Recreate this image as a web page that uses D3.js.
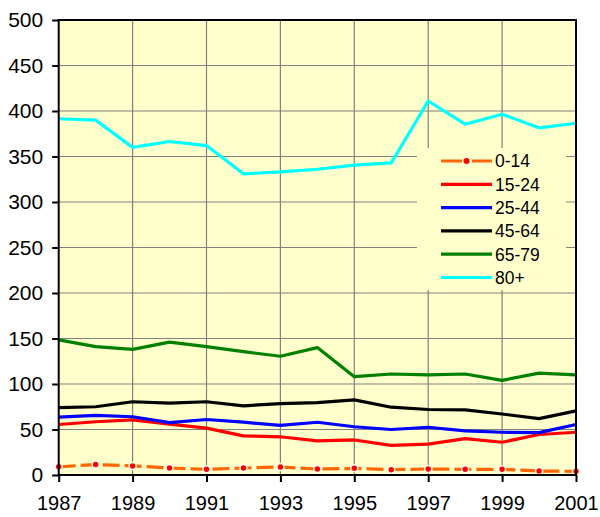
<!DOCTYPE html>
<html>
<head>
<meta charset="utf-8">
<script src="https://cdn.jsdelivr.net/npm/d3@7/dist/d3.min.js"></script>
<style>
  html, body { margin: 0; padding: 0; background: #ffffff; }
  svg { display: block; }
  text { font-family: "Liberation Sans", Arial, sans-serif; fill: #000; }
</style>
</head>
<body>
<svg id="chart" width="600" height="517"></svg>
<script>
// Years on the horizontal axis
const years = [1987, 1988, 1989, 1990, 1991, 1992, 1993, 1994, 1995, 1996, 1997, 1998, 1999, 2000, 2001];

// Age groups and their rates per year
const age0_14  = [9, 11.5, 10, 7.7, 6.2, 7.7, 8.8, 6.6, 7.3, 5.9, 6.6, 6.2, 6.2, 4.4, 4];
const age15_24 = [55.5, 58.5, 60.5, 56, 51.5, 43, 42, 37.5, 38.5, 32.5, 34, 40, 36, 44.5, 47];
const age25_44 = [63.5, 65.5, 64, 57.5, 61, 58, 54.5, 58, 53, 50, 52.5, 48.5, 47, 46.5, 55.5];
const age45_64 = [74, 75, 80.5, 79, 80.5, 76, 78.5, 79.5, 82.5, 74.5, 72, 71.5, 67, 62, 70.5];
const age65_79 = [148.5, 141, 138, 146, 141, 135.5, 130.5, 140, 108, 111, 110, 111, 104, 112, 110];
const age80p   = [391.5, 390, 360, 366.5, 362, 331, 333, 336, 340.5, 343, 411, 385.5, 396.5, 381.5, 386.5];

const seriesNames  = ["0-14", "15-24", "25-44", "45-64", "65-79", "80+"];
const seriesValues = [age0_14, age15_24, age25_44, age45_64, age65_79, age80p];
const seriesColors = ["#FF6600", "#FF0000", "#0000FF", "#000000", "#008000", "#00FFFF"];

const yTicks = d3.range(0, 501, 50);
const xTicks = [1987, 1989, 1991, 1993, 1995, 1997, 1999, 2001];

const svg = d3.select("#chart");
const plotL = 58.7, plotR = 576, plotT = 20, plotB = 475;

const x = d3.scaleLinear().domain([1987, 2001]).range([plotL, plotR]);
const y = d3.scaleLinear().domain([0, 500]).range([plotB, plotT]);

// plot background
svg.append("rect")
  .attr("x", plotL).attr("y", plotT)
  .attr("width", plotR - plotL).attr("height", plotB - plotT)
  .attr("fill", "#FFFFCC");

// grid lines
const grid = svg.append("g").attr("stroke", "#808080").attr("stroke-width", 1.2);
grid.selectAll("line.h").data(yTicks.filter(d => d > 0 && d < 500)).join("line")
  .attr("class", "h")
  .attr("x1", plotL).attr("x2", plotR)
  .attr("y1", d => y(d)).attr("y2", d => y(d));
grid.selectAll("line.v").data(xTicks.filter(d => d > 1987 && d < 2001)).join("line")
  .attr("class", "v")
  .attr("x1", d => x(d)).attr("x2", d => x(d))
  .attr("y1", plotT).attr("y2", plotB);

// axes
const yAxis = svg.append("g")
  .attr("transform", `translate(${plotL},0)`)
  .call(d3.axisLeft(y).tickValues(yTicks).tickSize(6.5).tickPadding(9).tickFormat(d3.format("d")));
const xAxis = svg.append("g")
  .attr("transform", `translate(0,${plotB})`)
  .call(d3.axisBottom(x).tickValues(xTicks).tickSize(7).tickPadding(14).tickFormat(d3.format("d")));
[yAxis, xAxis].forEach(a => {
  a.select(".domain").remove();
  a.selectAll(".tick line").attr("stroke", "#000").attr("stroke-width", 2);
  a.selectAll(".tick text").style("font-family", "'Liberation Sans', Arial, sans-serif").attr("fill", "#000");
});
yAxis.selectAll(".tick text").style("font-size", "21px");
xAxis.selectAll(".tick text").style("font-size", "20px");

// series lines
const line = d3.line().x((d, i) => x(years[i])).y(d => y(d));
const lines = svg.append("g");
seriesValues.forEach((vals, k) => {
  const p = lines.append("path")
    .datum(vals)
    .attr("fill", "none")
    .attr("stroke", seriesColors[k])
    .attr("stroke-width", 3.2)
    .attr("stroke-linejoin", "round")
    .attr("d", line);
  if (k === 0) p.attr("stroke-dasharray", "17,5");
});
// markers for the 0-14 group
lines.selectAll("circle.m").data(age0_14).join("circle")
  .attr("class", "m")
  .attr("cx", (d, i) => x(years[i]))
  .attr("cy", d => y(d))
  .attr("r", 3.5)
  .attr("fill", "#FF0000")
  .attr("stroke", "#FFFFEE")
  .attr("stroke-width", 1.5);

// legend
const lg = svg.append("g");
lg.append("rect")
  .attr("x", 417).attr("y", 148).attr("width", 149).attr("height", 142)
  .attr("fill", "#FFFFCC");
seriesNames.forEach((name, k) => {
  const ly = 161 + k * 23.3;
  const l = lg.append("line")
    .attr("x1", 441).attr("x2", 492)
    .attr("y1", ly).attr("y2", ly)
    .attr("stroke", seriesColors[k])
    .attr("stroke-width", 3.2);
  if (k === 0) {
    l.attr("stroke-dasharray", "21,10");
    lg.append("circle").attr("cx", 466.5).attr("cy", ly).attr("r", 3).attr("fill", "#FF0000");
  }
  lg.append("text")
    .attr("x", 495).attr("y", ly + 6.3)
    .style("font-size", "17.5px")
    .text(name);
});

// plot frame
svg.append("rect")
  .attr("x", plotL).attr("y", plotT)
  .attr("width", plotR - plotL).attr("height", plotB - plotT)
  .attr("fill", "none")
  .attr("stroke", "#000")
  .attr("stroke-width", 2);
</script>
</body>
</html>
